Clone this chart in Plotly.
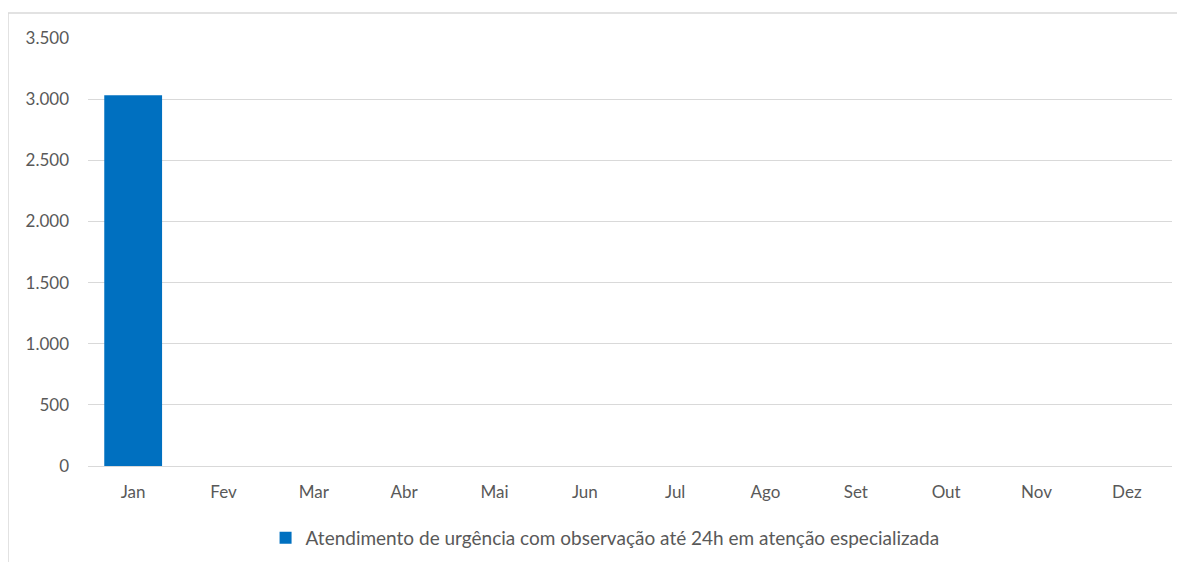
import plotly.graph_objects as go

months = ["Jan", "Fev", "Mar", "Abr", "Mai", "Jun", "Jul", "Ago", "Set", "Out", "Nov", "Dez"]
values = [3032, 0, 0, 0, 0, 0, 0, 0, 0, 0, 0, 0]
series_name = "Atendimento de urgência com observação até 24h em atenção especializada"
y_ticks = [0, 500, 1000, 1500, 2000, 2500, 3000, 3500]
y_tick_labels = ["0", "500", "1.000", "1.500", "2.000", "2.500", "3.000", "3.500"]

font_family = "Lato, 'Open Sans', sans-serif"
text_color = "#595959"

fig = go.Figure()
fig.add_trace(go.Bar(
    x=months, y=values, name=series_name,
    marker=dict(color="#0070C0", line=dict(width=0)),
    width=0.64,
))

fig.update_layout(
    width=1177, height=554,
    margin=dict(l=80, r=13, t=30, b=96, autoexpand=False),
    paper_bgcolor="white", plot_bgcolor="white",
    font=dict(family=font_family, size=17, color=text_color),
    showlegend=True,
    legend=dict(orientation="h", xref="paper", x=0.477, xanchor="center",
                yref="container", y=0.0433, yanchor="middle",
                font=dict(size=19, color=text_color), itemwidth=30),
    xaxis=dict(showgrid=False, showline=False, ticks="", ticklabelstandoff=14,
               automargin=False, tickfont=dict(size=17, color=text_color)),
    yaxis=dict(range=[0, 3500], tickvals=y_ticks, ticktext=y_tick_labels,
               showgrid=True, gridcolor="#d9d9d9", gridwidth=1,
               zeroline=True, zerolinecolor="#d9d9d9", zerolinewidth=1,
               showline=False, ticks="", ticklabelstandoff=18, automargin=False,
               tickfont=dict(size=17, color=text_color)),
    bargap=0.36,
)

fig.add_shape(type="rect", xref="paper", yref="paper",
              x0=-0.0738, x1=1.05, y0=-0.35, y1=1.0584,
              line=dict(color="#d9d9d9", width=1.5), fillcolor="rgba(0,0,0,0)", layer="below")

fig.write_html("out.html")
